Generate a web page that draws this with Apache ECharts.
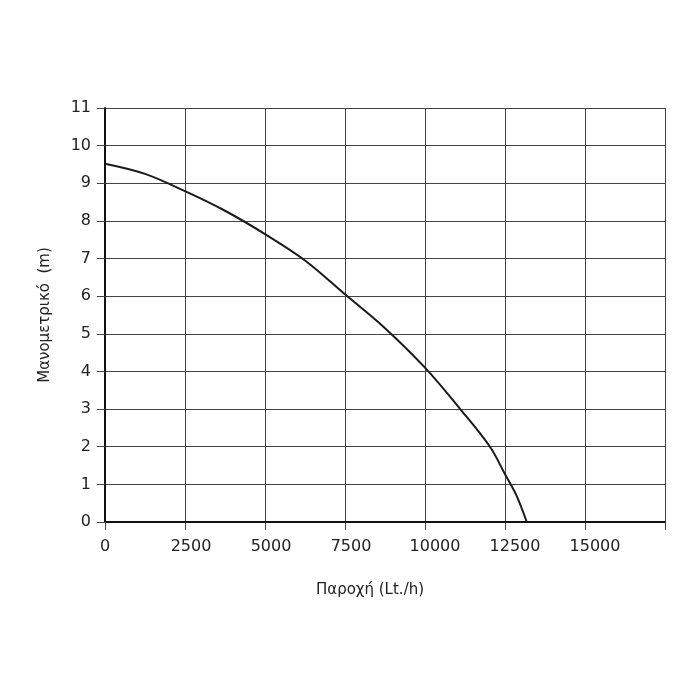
<!DOCTYPE html>
<html>
<head>
<meta charset="utf-8">
<script src="https://cdn.jsdelivr.net/npm/echarts@6/dist/echarts.min.js"></script>
<style>
html,body{margin:0;padding:0;background:#fff;}
#c{width:700px;height:700px;}
</style>
</head>
<body>
<div id="c"></div>
<script>
// Flow (Lt./h) and head (m)
var flow = [0, 1250, 2500, 3750, 5000, 6250, 7500, 8750, 10000, 11100, 12030, 12500, 12850, 13180];
var head = [9.52, 9.25, 8.79, 8.27, 7.65, 6.95, 6.05, 5.15, 4.1, 3.0, 2.0, 1.27, 0.72, 0];
var xTicks = [0, 2500, 5000, 7500, 10000, 12500, 15000];
var yTicks = [0, 1, 2, 3, 4, 5, 6, 7, 8, 9, 10, 11];
var xName = 'Παροχή (Lt./h)';
var yName = 'Μανομετρικό  (m)';

var pts = flow.map(function (f, i) { return [f, head[i]]; });
var font = '"DejaVu Sans", sans-serif';
var chart = echarts.init(document.getElementById('c'));
chart.setOption({
  animation: false,
  backgroundColor: '#fff',
  grid: { left: 105, top: 108, right: 35, bottom: 178 },
  xAxis: {
    type: 'value', min: 0, max: 17500, interval: 2500,
    name: xName, nameLocation: 'middle', nameGap: 61,
    nameTextStyle: { color: '#222', fontSize: 15, fontFamily: font, padding: [0, 30, 0, 0] },
    axisLine: { show: true, lineStyle: { color: '#111', width: 2 } },
    axisTick: { show: true, length: 8, lineStyle: { color: '#444', width: 1 } },
    axisLabel: {
      color: '#222', fontSize: 16, fontFamily: font, margin: 17,
      formatter: function (v) {
        if (xTicks.indexOf(v) < 0) return '';
        if (v === 0) return '{z|0}';
        return (v >= 10000 ? '{b|' : '{a|') + v + '}';
      },
      rich: {
        z: { color: '#222', fontSize: 16, fontFamily: font },
        a: { color: '#222', fontSize: 16, fontFamily: font, padding: [0, 0, 0, 12] },
        b: { color: '#222', fontSize: 16, fontFamily: font, padding: [0, 0, 0, 20] }
      }
    },
    splitLine: { show: true, lineStyle: { color: '#444', width: 1 } }
  },
  yAxis: {
    type: 'value', min: 0, max: 11, interval: 1,
    name: yName, nameLocation: 'middle', nameGap: 52, nameRotate: 90,
    nameTextStyle: { color: '#222', fontSize: 15, fontFamily: font },
    axisLine: { show: true, lineStyle: { color: '#111', width: 2 } },
    axisTick: { show: true, length: 8, lineStyle: { color: '#444', width: 1 } },
    axisLabel: {
      color: '#222', fontSize: 16, fontFamily: font, margin: 14,
      formatter: function (v) { return yTicks.indexOf(v) >= 0 ? String(v) : ''; }
    },
    splitLine: { show: true, lineStyle: { color: '#444', width: 1 } }
  },
  series: [{
    type: 'line',
    data: pts,
    smooth: 0.35,
    showSymbol: false,
    lineStyle: { color: '#1a1a1a', width: 2 }
  }]
});
</script>
</body>
</html>
